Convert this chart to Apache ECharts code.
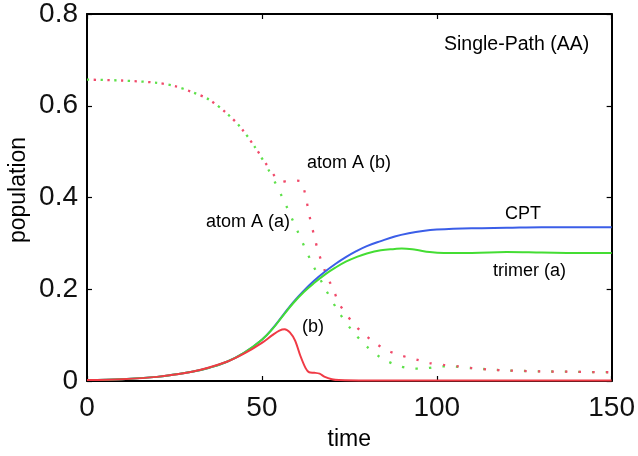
<!DOCTYPE html>
<html>
<head>
<meta charset="utf-8">
<script src="https://cdn.jsdelivr.net/npm/echarts@6/dist/echarts.min.js"></script>
<style>
html,body{margin:0;padding:0;background:#fff;}
#chart{width:638px;height:456px;}
</style>
</head>
<body>
<div id="chart"></div>
<script>
// ---- data ----
var xTicks = [0, 50, 100, 150];
var yTicks = [0, 0.2, 0.4, 0.6, 0.8];

var cptT = [0, 10, 20, 25, 30, 35, 40, 45, 50, 53, 56, 59, 62, 65, 68, 71, 74, 77, 80, 84, 88, 92, 96, 100, 110, 120, 130, 140, 150];
var cptY = [0.002, 0.004, 0.009, 0.014, 0.020, 0.029, 0.042, 0.062, 0.090, 0.114, 0.143, 0.172, 0.197, 0.219, 0.238, 0.255, 0.270, 0.283, 0.294, 0.305, 0.315, 0.322, 0.327, 0.330, 0.333, 0.334, 0.335, 0.335, 0.335];

var trimerT = [0, 10, 20, 25, 30, 35, 40, 45, 50, 53, 56, 59, 62, 65, 68, 71, 74, 77, 80, 84, 88, 90, 94, 98, 102, 110, 120, 130, 140, 150];
var trimerY = [0.002, 0.004, 0.009, 0.014, 0.020, 0.029, 0.042, 0.062, 0.090, 0.113, 0.142, 0.170, 0.194, 0.214, 0.232, 0.247, 0.260, 0.270, 0.278, 0.285, 0.288, 0.289, 0.286, 0.281, 0.279, 0.279, 0.281, 0.280, 0.279, 0.279];

var trimerBT = [0, 10, 20, 30, 40, 45, 50, 53, 55, 56.5, 58, 59.5, 61, 62.5, 63.5, 65, 66.5, 68, 70, 72, 80, 150];
var trimerBY = [0.002, 0.004, 0.009, 0.020, 0.042, 0.060, 0.083, 0.100, 0.110, 0.113, 0.106, 0.088, 0.055, 0.028, 0.019, 0.018, 0.016, 0.009, 0.004, 0.002, 0.001, 0.001];

var atomAaT = [0, 10, 20, 25, 30, 35, 40, 44, 48, 52, 56, 60, 64, 68, 72, 76, 80, 84, 88, 92, 96, 100, 104, 110, 120, 130, 140, 150];
var atomAaY = [0.657, 0.655, 0.650, 0.643, 0.630, 0.613, 0.583, 0.552, 0.510, 0.459, 0.398, 0.330, 0.262, 0.203, 0.150, 0.108, 0.075, 0.051, 0.036, 0.028, 0.027, 0.031, 0.032, 0.028, 0.023, 0.021, 0.020, 0.019];

var atomAbT = [0, 10, 20, 25, 30, 35, 40, 44, 48, 52.8, 55.5, 58, 61, 62.3, 63.2, 64, 65, 66, 67.2, 68.7, 70.4, 72, 74, 76, 78.5, 81.5, 85, 88.7, 92, 95, 98, 102, 106, 110, 115, 120, 130, 140, 150];
var atomAbY = [0.657, 0.655, 0.650, 0.643, 0.630, 0.613, 0.583, 0.552, 0.510, 0.456, 0.434, 0.437, 0.436, 0.410, 0.376, 0.346, 0.315, 0.285, 0.257, 0.227, 0.200, 0.170, 0.147, 0.127, 0.107, 0.088, 0.070, 0.058, 0.051, 0.045, 0.039, 0.035, 0.032, 0.028, 0.025, 0.023, 0.021, 0.020, 0.019];

function pairs(t, y) { return t.map(function (v, i) { return [v, y[i]]; }); }

var chart = echarts.init(document.getElementById('chart'), null, {renderer: 'canvas'});
var FONT = 'Liberation Sans, Arial, Helvetica, sans-serif';

var axisLine = {show: true, onZero: false, lineStyle: {color: '#000', width: 2}};
var tickStyle = {show: true, inside: true, length: 5, lineStyle: {color: '#000', width: 1.2}};

var option = {
  animation: false,
  backgroundColor: '#fff',
  grid: {left: 87, top: 14, right: 25, bottom: 74, containLabel: false},
  xAxis: [{
    type: 'value', min: xTicks[0], max: xTicks[xTicks.length - 1], interval: 50,
    position: 'bottom',
    name: 'time', nameLocation: 'middle', nameGap: 47,
    nameTextStyle: {fontFamily: FONT, fontSize: 23, color: '#000'},
    axisLine: axisLine, axisTick: tickStyle, splitLine: {show: false},
    axisLabel: {fontFamily: FONT, fontSize: 28, color: '#111', margin: 13}
  }, {
    type: 'value', min: xTicks[0], max: xTicks[xTicks.length - 1], interval: 50,
    position: 'top',
    axisLine: axisLine, axisTick: tickStyle, splitLine: {show: false},
    axisLabel: {show: false}
  }],
  yAxis: [{
    type: 'value', min: yTicks[0], max: yTicks[yTicks.length - 1], interval: 0.2,
    position: 'left',
    axisLine: axisLine, axisTick: tickStyle, splitLine: {show: false},
    axisLabel: {fontFamily: FONT, fontSize: 28, color: '#111', margin: 9}
  }, {
    type: 'value', min: yTicks[0], max: yTicks[yTicks.length - 1], interval: 0.2,
    position: 'right',
    axisLine: axisLine, axisTick: tickStyle, splitLine: {show: false},
    axisLabel: {show: false}
  }],
  series: [
    {
      name: 'atom A (a)', type: 'line', data: pairs(atomAaT, atomAaY), smooth: 0.3,
      showSymbol: false, symbol: 'none',
      lineStyle: {color: '#5ee04a', width: 2.3, type: [2.3, 11.3], cap: 'butt'}
    },
    {
      name: 'atom A (b)', type: 'line', data: pairs(atomAbT, atomAbY), smooth: 0.3,
      showSymbol: false, symbol: 'none',
      lineStyle: {color: '#f04a6a', width: 2.3, type: [2.3, 11.3], dashOffset: 6.8, cap: 'butt'}
    },
    {
      name: 'CPT', type: 'line', data: pairs(cptT, cptY), smooth: 0.4,
      showSymbol: false, symbol: 'none',
      lineStyle: {color: '#3b5ee8', width: 2}
    },
    {
      name: 'trimer (a)', type: 'line', data: pairs(trimerT, trimerY), smooth: 0.4,
      showSymbol: false, symbol: 'none',
      lineStyle: {color: '#44dd33', width: 2}
    },
    {
      name: '(b)', type: 'line', data: pairs(trimerBT, trimerBY), smooth: 0.3,
      showSymbol: false, symbol: 'none',
      lineStyle: {color: '#f03a45', width: 2}
    }
  ],
  graphic: [
    {type: 'text', x: 19, y: 190, rotation: Math.PI / 2,
     style: {text: 'population', font: '23px ' + FONT, fill: '#000', textAlign: 'center', textVerticalAlign: 'middle'}},
    {type: 'text', left: 444, top: 35, style: {text: 'Single-Path (AA)', font: '19.5px ' + FONT, fill: '#000'}},
    {type: 'text', left: 307, top: 154, style: {text: 'atom A (b)', font: '18px ' + FONT, fill: '#000'}},
    {type: 'text', left: 206, top: 213, style: {text: 'atom A (a)', font: '18px ' + FONT, fill: '#000'}},
    {type: 'text', left: 505, top: 205, style: {text: 'CPT', font: '18px ' + FONT, fill: '#000'}},
    {type: 'text', left: 493, top: 262, style: {text: 'trimer (a)', font: '18px ' + FONT, fill: '#000'}},
    {type: 'text', left: 302, top: 318, style: {text: '(b)', font: '18px ' + FONT, fill: '#000'}}
  ]
};
chart.setOption(option);
</script>
</body>
</html>
